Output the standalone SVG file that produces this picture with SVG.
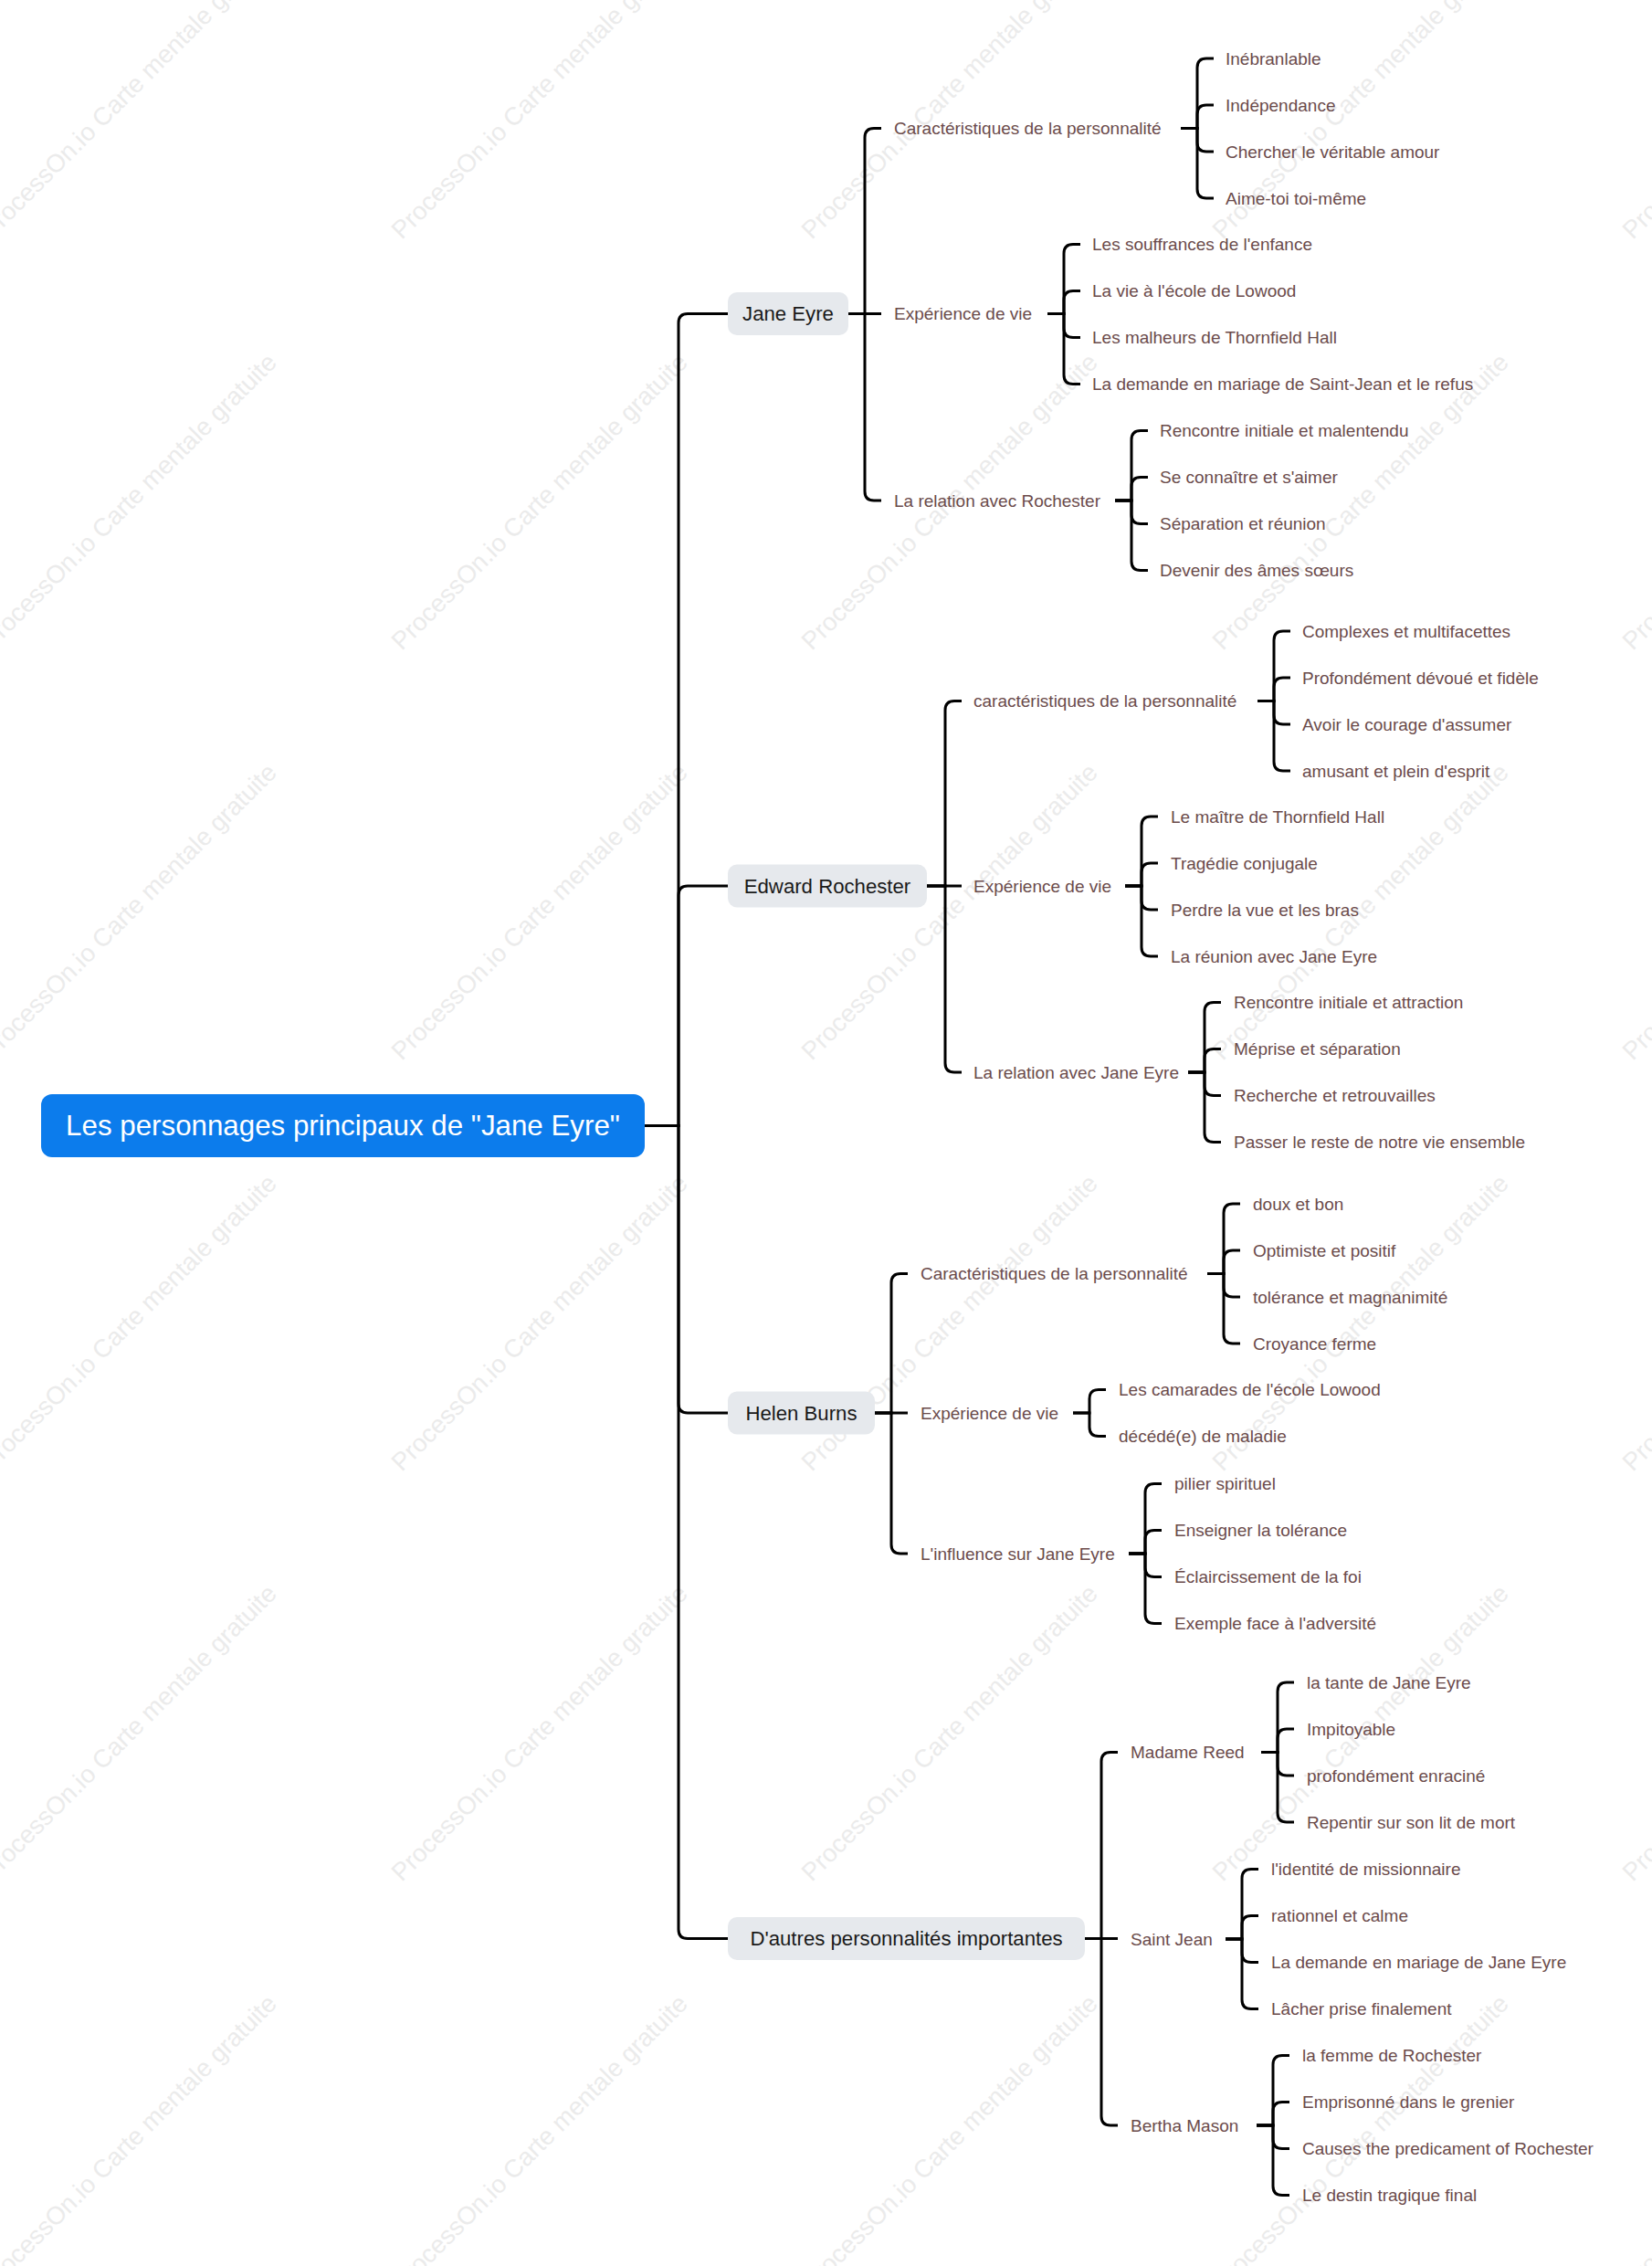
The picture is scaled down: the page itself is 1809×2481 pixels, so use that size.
<svg xmlns="http://www.w3.org/2000/svg" width="1809" height="2481" viewBox="0 0 1809 2481">
<style>
.bg{fill:#ffffff}
.wm{font-family:"Liberation Sans",Arial,sans-serif;font-size:27.5px;fill:#ebebeb}
.c{fill:none;stroke:#000;stroke-width:3}
.root{fill:#0c7cec}
.rt{font-family:"Liberation Sans",Arial,sans-serif;font-size:31.3px;fill:#fff;text-anchor:middle;dominant-baseline:central}
.b1{fill:#e6e9ed}
.t1{font-family:"Liberation Sans",Arial,sans-serif;font-size:22.2px;fill:#1a1a1a;text-anchor:middle;dominant-baseline:central}
.t2{font-family:"Liberation Sans",Arial,sans-serif;font-size:19px;fill:#6b4b4b;dominant-baseline:central}
</style>
<rect class="bg" x="0" y="0" width="1809" height="2481"/>
<g id="watermark">
<text class="wm" transform="translate(-10,263) rotate(-45)">ProcessOn.io Carte mentale gratuite</text>
<text class="wm" transform="translate(440,263) rotate(-45)">ProcessOn.io Carte mentale gratuite</text>
<text class="wm" transform="translate(889,263) rotate(-45)">ProcessOn.io Carte mentale gratuite</text>
<text class="wm" transform="translate(1339,263) rotate(-45)">ProcessOn.io Carte mentale gratuite</text>
<text class="wm" transform="translate(1788,263) rotate(-45)">ProcessOn.io Carte mentale gratuite</text>
<text class="wm" transform="translate(-10,713) rotate(-45)">ProcessOn.io Carte mentale gratuite</text>
<text class="wm" transform="translate(440,713) rotate(-45)">ProcessOn.io Carte mentale gratuite</text>
<text class="wm" transform="translate(889,713) rotate(-45)">ProcessOn.io Carte mentale gratuite</text>
<text class="wm" transform="translate(1339,713) rotate(-45)">ProcessOn.io Carte mentale gratuite</text>
<text class="wm" transform="translate(1788,713) rotate(-45)">ProcessOn.io Carte mentale gratuite</text>
<text class="wm" transform="translate(-10,1162) rotate(-45)">ProcessOn.io Carte mentale gratuite</text>
<text class="wm" transform="translate(440,1162) rotate(-45)">ProcessOn.io Carte mentale gratuite</text>
<text class="wm" transform="translate(889,1162) rotate(-45)">ProcessOn.io Carte mentale gratuite</text>
<text class="wm" transform="translate(1339,1162) rotate(-45)">ProcessOn.io Carte mentale gratuite</text>
<text class="wm" transform="translate(1788,1162) rotate(-45)">ProcessOn.io Carte mentale gratuite</text>
<text class="wm" transform="translate(-10,1612) rotate(-45)">ProcessOn.io Carte mentale gratuite</text>
<text class="wm" transform="translate(440,1612) rotate(-45)">ProcessOn.io Carte mentale gratuite</text>
<text class="wm" transform="translate(889,1612) rotate(-45)">ProcessOn.io Carte mentale gratuite</text>
<text class="wm" transform="translate(1339,1612) rotate(-45)">ProcessOn.io Carte mentale gratuite</text>
<text class="wm" transform="translate(1788,1612) rotate(-45)">ProcessOn.io Carte mentale gratuite</text>
<text class="wm" transform="translate(-10,2061) rotate(-45)">ProcessOn.io Carte mentale gratuite</text>
<text class="wm" transform="translate(440,2061) rotate(-45)">ProcessOn.io Carte mentale gratuite</text>
<text class="wm" transform="translate(889,2061) rotate(-45)">ProcessOn.io Carte mentale gratuite</text>
<text class="wm" transform="translate(1339,2061) rotate(-45)">ProcessOn.io Carte mentale gratuite</text>
<text class="wm" transform="translate(1788,2061) rotate(-45)">ProcessOn.io Carte mentale gratuite</text>
<text class="wm" transform="translate(-10,2510) rotate(-45)">ProcessOn.io Carte mentale gratuite</text>
<text class="wm" transform="translate(440,2510) rotate(-45)">ProcessOn.io Carte mentale gratuite</text>
<text class="wm" transform="translate(889,2510) rotate(-45)">ProcessOn.io Carte mentale gratuite</text>
<text class="wm" transform="translate(1339,2510) rotate(-45)">ProcessOn.io Carte mentale gratuite</text>
<text class="wm" transform="translate(1788,2510) rotate(-45)">ProcessOn.io Carte mentale gratuite</text>
</g>
<g id="connectors">
<!-- root to level 1 -->
<path class="c" d="M706 1232.5 H743 V353.5 Q743 343.5 753 343.5 H797"/>
<path class="c" d="M706 1232.5 H743 V980 Q743 970 753 970 H797"/>
<path class="c" d="M706 1232.5 H743 V1537 Q743 1547 753 1547 H797"/>
<path class="c" d="M706 1232.5 H743 V2112.5 Q743 2122.5 753 2122.5 H797"/>
<!-- Jane Eyre -->
<path class="c" d="M929 343.5 H947 V150.5 Q947 140.5 957 140.5 H965"/>
<path class="c" d="M929 343.5 H965"/>
<path class="c" d="M929 343.5 H947 V538 Q947 548 957 548 H965"/>
<path class="c" d="M1293 140.5 H1311 V74 Q1311 64 1321 64 H1329"/>
<path class="c" d="M1293 140.5 H1311 V125 Q1311 115 1321 115 H1329"/>
<path class="c" d="M1293 140.5 H1311 V156 Q1311 166 1321 166 H1329"/>
<path class="c" d="M1293 140.5 H1311 V207 Q1311 217 1321 217 H1329"/>
<path class="c" d="M1147 343.5 H1165 V277.5 Q1165 267.5 1175 267.5 H1183"/>
<path class="c" d="M1147 343.5 H1165 V328.5 Q1165 318.5 1175 318.5 H1183"/>
<path class="c" d="M1147 343.5 H1165 V359.5 Q1165 369.5 1175 369.5 H1183"/>
<path class="c" d="M1147 343.5 H1165 V410.5 Q1165 420.5 1175 420.5 H1183"/>
<path class="c" d="M1221 548 H1239 V481.5 Q1239 471.5 1249 471.5 H1257"/>
<path class="c" d="M1221 548 H1239 V532.5 Q1239 522.5 1249 522.5 H1257"/>
<path class="c" d="M1221 548 H1239 V563.5 Q1239 573.5 1249 573.5 H1257"/>
<path class="c" d="M1221 548 H1239 V614.5 Q1239 624.5 1249 624.5 H1257"/>
<!-- Edward Rochester -->
<path class="c" d="M1015 970 H1035 V777.5 Q1035 767.5 1045 767.5 H1053"/>
<path class="c" d="M1015 970 H1053"/>
<path class="c" d="M1015 970 H1035 V1164 Q1035 1174 1045 1174 H1053"/>
<path class="c" d="M1377 767.5 H1395 V701 Q1395 691 1405 691 H1413"/>
<path class="c" d="M1377 767.5 H1395 V752 Q1395 742 1405 742 H1413"/>
<path class="c" d="M1377 767.5 H1395 V783 Q1395 793 1405 793 H1413"/>
<path class="c" d="M1377 767.5 H1395 V834 Q1395 844 1405 844 H1413"/>
<path class="c" d="M1232 970 H1250 V904 Q1250 894 1260 894 H1268"/>
<path class="c" d="M1232 970 H1250 V955 Q1250 945 1260 945 H1268"/>
<path class="c" d="M1232 970 H1250 V986 Q1250 996 1260 996 H1268"/>
<path class="c" d="M1232 970 H1250 V1037 Q1250 1047 1260 1047 H1268"/>
<path class="c" d="M1301 1174 H1319 V1107.5 Q1319 1097.5 1329 1097.5 H1337"/>
<path class="c" d="M1301 1174 H1319 V1158.5 Q1319 1148.5 1329 1148.5 H1337"/>
<path class="c" d="M1301 1174 H1319 V1189.5 Q1319 1199.5 1329 1199.5 H1337"/>
<path class="c" d="M1301 1174 H1319 V1240.5 Q1319 1250.5 1329 1250.5 H1337"/>
<!-- Helen Burns -->
<path class="c" d="M958 1547 H976 V1404.5 Q976 1394.5 986 1394.5 H994"/>
<path class="c" d="M958 1547 H994"/>
<path class="c" d="M958 1547 H976 V1691 Q976 1701 986 1701 H994"/>
<path class="c" d="M1322 1394.5 H1340 V1328 Q1340 1318 1350 1318 H1358"/>
<path class="c" d="M1322 1394.5 H1340 V1379 Q1340 1369 1350 1369 H1358"/>
<path class="c" d="M1322 1394.5 H1340 V1410 Q1340 1420 1350 1420 H1358"/>
<path class="c" d="M1322 1394.5 H1340 V1461 Q1340 1471 1350 1471 H1358"/>
<path class="c" d="M1175 1547 H1193 V1531.5 Q1193 1521.5 1203 1521.5 H1211"/>
<path class="c" d="M1175 1547 H1193 V1562.5 Q1193 1572.5 1203 1572.5 H1211"/>
<path class="c" d="M1236 1701 H1254 V1634.5 Q1254 1624.5 1264 1624.5 H1272"/>
<path class="c" d="M1236 1701 H1254 V1685.5 Q1254 1675.5 1264 1675.5 H1272"/>
<path class="c" d="M1236 1701 H1254 V1716.5 Q1254 1726.5 1264 1726.5 H1272"/>
<path class="c" d="M1236 1701 H1254 V1767.5 Q1254 1777.5 1264 1777.5 H1272"/>
<!-- D'autres personnalités importantes -->
<path class="c" d="M1188 2122.5 H1206 V1928.5 Q1206 1918.5 1216 1918.5 H1224"/>
<path class="c" d="M1188 2122.5 H1224"/>
<path class="c" d="M1188 2122.5 H1206 V2317 Q1206 2327 1216 2327 H1224"/>
<path class="c" d="M1381 1918.5 H1399 V1852 Q1399 1842 1409 1842 H1417"/>
<path class="c" d="M1381 1918.5 H1399 V1903 Q1399 1893 1409 1893 H1417"/>
<path class="c" d="M1381 1918.5 H1399 V1934 Q1399 1944 1409 1944 H1417"/>
<path class="c" d="M1381 1918.5 H1399 V1985 Q1399 1995 1409 1995 H1417"/>
<path class="c" d="M1342 2123 H1360 V2056.5 Q1360 2046.5 1370 2046.5 H1378"/>
<path class="c" d="M1342 2123 H1360 V2107.5 Q1360 2097.5 1370 2097.5 H1378"/>
<path class="c" d="M1342 2123 H1360 V2138.5 Q1360 2148.5 1370 2148.5 H1378"/>
<path class="c" d="M1342 2123 H1360 V2189.5 Q1360 2199.5 1370 2199.5 H1378"/>
<path class="c" d="M1376 2327 H1394 V2260.5 Q1394 2250.5 1404 2250.5 H1412"/>
<path class="c" d="M1376 2327 H1394 V2311.5 Q1394 2301.5 1404 2301.5 H1412"/>
<path class="c" d="M1376 2327 H1394 V2342.5 Q1394 2352.5 1404 2352.5 H1412"/>
<path class="c" d="M1376 2327 H1394 V2393.5 Q1394 2403.5 1404 2403.5 H1412"/>
</g>
<g id="root">
<rect class="root" x="45" y="1198" width="661" height="69" rx="12"/>
<text class="rt" x="375.5" y="1232.5">Les personnages principaux de "Jane Eyre"</text>
</g>
<g id="n-jane"><rect class="b1" x="797" y="320" width="132" height="47" rx="10"/><text class="t1" x="863" y="343.5">Jane Eyre</text></g>
<g id="n-edward"><rect class="b1" x="797" y="946.5" width="218" height="47" rx="10"/><text class="t1" x="906" y="970">Edward Rochester</text></g>
<g id="n-helen"><rect class="b1" x="797" y="1523.5" width="161" height="47" rx="10"/><text class="t1" x="877.5" y="1547">Helen Burns</text></g>
<g id="n-autres"><rect class="b1" x="797" y="2099" width="391" height="47" rx="10"/><text class="t1" x="992.5" y="2122.5">D'autres personnalités importantes</text></g>
<g id="jane-sub">
<text class="t2" x="979" y="140.5">Caractéristiques de la personnalité</text>
<text class="t2" x="979" y="343.5">Expérience de vie</text>
<text class="t2" x="979" y="548">La relation avec Rochester</text>
<text class="t2" x="1342" y="64">Inébranlable</text>
<text class="t2" x="1342" y="115">Indépendance</text>
<text class="t2" x="1342" y="166">Chercher le véritable amour</text>
<text class="t2" x="1342" y="217">Aime-toi toi-même</text>
<text class="t2" x="1196" y="267.5">Les souffrances de l'enfance</text>
<text class="t2" x="1196" y="318.5">La vie à l'école de Lowood</text>
<text class="t2" x="1196" y="369.5">Les malheurs de Thornfield Hall</text>
<text class="t2" x="1196" y="420.5">La demande en mariage de Saint-Jean et le refus</text>
<text class="t2" x="1270" y="471.5">Rencontre initiale et malentendu</text>
<text class="t2" x="1270" y="522.5">Se connaître et s'aimer</text>
<text class="t2" x="1270" y="573.5">Séparation et réunion</text>
<text class="t2" x="1270" y="624.5">Devenir des âmes sœurs</text>
</g>
<g id="edward-sub">
<text class="t2" x="1066" y="767.5">caractéristiques de la personnalité</text>
<text class="t2" x="1066" y="970">Expérience de vie</text>
<text class="t2" x="1066" y="1174">La relation avec Jane Eyre</text>
<text class="t2" x="1426" y="691">Complexes et multifacettes</text>
<text class="t2" x="1426" y="742">Profondément dévoué et fidèle</text>
<text class="t2" x="1426" y="793">Avoir le courage d'assumer</text>
<text class="t2" x="1426" y="844">amusant et plein d'esprit</text>
<text class="t2" x="1282" y="894">Le maître de Thornfield Hall</text>
<text class="t2" x="1282" y="945">Tragédie conjugale</text>
<text class="t2" x="1282" y="996">Perdre la vue et les bras</text>
<text class="t2" x="1282" y="1047">La réunion avec Jane Eyre</text>
<text class="t2" x="1351" y="1097.5">Rencontre initiale et attraction</text>
<text class="t2" x="1351" y="1148.5">Méprise et séparation</text>
<text class="t2" x="1351" y="1199.5">Recherche et retrouvailles</text>
<text class="t2" x="1351" y="1250.5">Passer le reste de notre vie ensemble</text>
</g>
<g id="helen-sub">
<text class="t2" x="1008" y="1394.5">Caractéristiques de la personnalité</text>
<text class="t2" x="1008" y="1547">Expérience de vie</text>
<text class="t2" x="1008" y="1701">L'influence sur Jane Eyre</text>
<text class="t2" x="1372" y="1318">doux et bon</text>
<text class="t2" x="1372" y="1369">Optimiste et positif</text>
<text class="t2" x="1372" y="1420">tolérance et magnanimité</text>
<text class="t2" x="1372" y="1471">Croyance ferme</text>
<text class="t2" x="1225" y="1521.5">Les camarades de l'école Lowood</text>
<text class="t2" x="1225" y="1572.5">décédé(e) de maladie</text>
<text class="t2" x="1286" y="1624.5">pilier spirituel</text>
<text class="t2" x="1286" y="1675.5">Enseigner la tolérance</text>
<text class="t2" x="1286" y="1726.5">Éclaircissement de la foi</text>
<text class="t2" x="1286" y="1777.5">Exemple face à l'adversité</text>
</g>
<g id="autres-sub">
<text class="t2" x="1238" y="1918.5">Madame Reed</text>
<text class="t2" x="1238" y="2123">Saint Jean</text>
<text class="t2" x="1238" y="2327">Bertha Mason</text>
<text class="t2" x="1431" y="1842">la tante de Jane Eyre</text>
<text class="t2" x="1431" y="1893">Impitoyable</text>
<text class="t2" x="1431" y="1944">profondément enraciné</text>
<text class="t2" x="1431" y="1995">Repentir sur son lit de mort</text>
<text class="t2" x="1392" y="2046.5">l'identité de missionnaire</text>
<text class="t2" x="1392" y="2097.5">rationnel et calme</text>
<text class="t2" x="1392" y="2148.5">La demande en mariage de Jane Eyre</text>
<text class="t2" x="1392" y="2199.5">Lâcher prise finalement</text>
<text class="t2" x="1426" y="2250.5">la femme de Rochester</text>
<text class="t2" x="1426" y="2301.5">Emprisonné dans le grenier</text>
<text class="t2" x="1426" y="2352.5">Causes the predicament of Rochester</text>
<text class="t2" x="1426" y="2403.5">Le destin tragique final</text>
</g>
</svg>
